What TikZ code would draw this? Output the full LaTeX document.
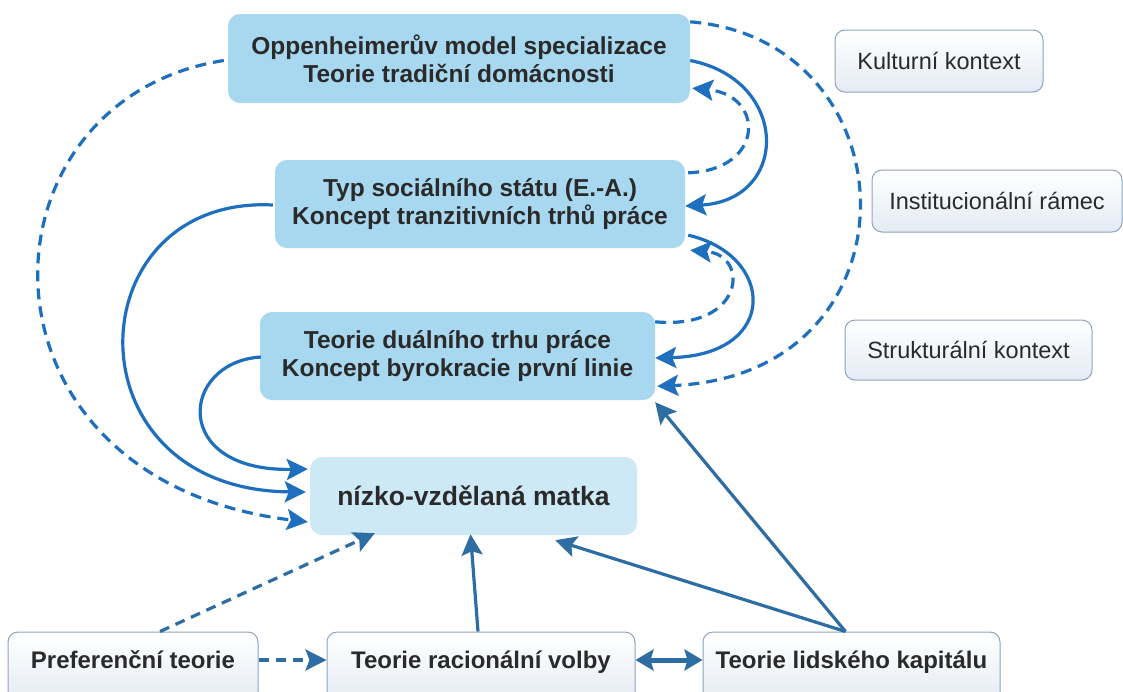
\documentclass[tikz,border=0pt]{standalone}
\usepackage{fontspec}
\setmainfont{Liberation Sans}
\usetikzlibrary{arrows.meta,calc}
\definecolor{boxblue}{HTML}{A8D8EF}
\definecolor{matblue}{HTML}{CDE9F6}
\definecolor{txt}{HTML}{2A2A2A}
\definecolor{curveblue}{HTML}{1E70BF}
\definecolor{lineblue}{HTML}{2E6DA4}
\definecolor{ctxborder}{HTML}{8CA4BC}
\definecolor{ctxbottom}{HTML}{E4EBF3}
\tikzset{
  mainbox/.style={fill=boxblue, rounded corners=12pt, text=txt, align=center,
    font=\bfseries\fontsize{24.5}{28}\selectfont, inner sep=0pt},
  matbox/.style={fill=matblue, rounded corners=12pt, text=txt,
    font=\bfseries\fontsize{26.5}{30}\selectfont, inner sep=0pt},
  ctxbox/.style={draw=ctxborder, line width=1pt, rounded corners=10pt,
    top color=white, bottom color=ctxbottom, text=txt,
    font=\fontsize{23.5}{27}\selectfont, inner sep=0pt},
  thbox/.style={ctxbox, font=\bfseries\fontsize{24}{28}\selectfont,
    text height=17pt, text depth=16pt},
  tipc/.style={-{Stealth[length=21pt,width=21pt,inset=4pt]}},
  curve/.style={draw=curveblue, line width=3.2pt, tipc},
  dcurve/.style={curve, dash pattern=on 11pt off 7pt},
  bline/.style={draw=lineblue, line width=3.2pt, tipc},
  dbline/.style={bline, dash pattern=on 10pt off 7pt},
}
\begin{document}
\begin{tikzpicture}[x=1pt,y=-1pt]
\useasboundingbox (0,0) rectangle (1123,691);
\fill[white] (0,0) rectangle (1123,691);

\node[mainbox, minimum width=462pt, minimum height=89pt] (O) at (459,58.5)
  {Oppenheimerův model specializace\\Teorie tradiční domácnosti};
\node[mainbox, minimum width=410pt, minimum height=88pt] (T) at (480,204)
  {Typ sociálního státu (E.-A.)\\Koncept tranzitivních trhů práce};
\node[mainbox, minimum width=395pt, minimum height=88pt] (D) at (457.5,356)
  {Teorie duálního trhu práce\\Koncept byrokracie první linie};
\node[matbox, minimum width=327pt, minimum height=78pt] (M) at (473.5,496)
  {nízko-vzdělaná matka};

\node[ctxbox, minimum width=208pt, minimum height=62pt] (K) at (939,61) {Kulturní kontext};
\node[ctxbox, minimum width=250pt, minimum height=62pt] (I) at (997,201) {Institucionální rámec};
\node[ctxbox, minimum width=247pt, minimum height=60pt] (S) at (968.5,350) {Strukturální kontext};

\node[thbox, minimum width=250pt, minimum height=72pt] (P) at (133,668) {Preferenční teorie};
\node[thbox, minimum width=308pt, minimum height=72pt] (R) at (481,668) {Teorie racionální volby};
\node[thbox, minimum width=297pt, minimum height=72pt] (H) at (851.5,668) {Teorie lidského kapitálu};

% right-hand loops
\draw[curve] ($(O.east)+(0,2)$) .. controls (790,80) and (790,200) .. ($(T.east)+(0,2)$);
\draw[dcurve] ($(T.north east)+(3,13)$) .. controls (765,170) and (765,95) .. ($(O.south east)+(2,-15)$);
\draw[curve] ($(T.south east)+(3,-13)$) .. controls (775,255) and (780,355) .. ($(D.east)+(0,2)$);
\draw[dcurve] ($(D.north east)+(0,10)$) .. controls (745,330) and (750,255) .. ($(T.south east)+(5,2)$);
\draw[dcurve] ($(O.north east)+(0,8)$) .. controls (915,40) and (925,375) .. ($(D.south east)+(2,-14)$);

% left-hand loops
\draw[dcurve] ($(O.west)+(-4,2)$) .. controls (-30,100) and (-40,480) .. ($(M.west)+(-2,26)$);
\draw[curve] ($(T.west)+(-2,1)$) .. controls (75,195) and (65,490) .. ($(M.west)+(-4,-4)$);
\draw[curve] ($(D.west)+(1,1)$) .. controls (180,362) and (170,472) .. ($(M.west)+(-2,-27)$);

% bottom connectors
\coordinate (Pt) at ($(P.north)+(27,0)$);
\coordinate (Ht) at ($(H.north)+(-6,0)$);
\draw[dbline] (Pt) -- ($(M.south west)+(65,-2)$);
\draw[bline] ($(R.north)+(-3,0)$) -- ($(M.south)+(-3,-1)$);
\draw[bline] (Ht) -- ($(M.south east)+(-82,5)$);
\draw[bline] (Ht) -- ($(D.south east)+(0,2)$);
\draw[dbline] ([yshift=8pt]P.east) -- ([yshift=8pt]R.west);
\draw[draw=lineblue, line width=5pt, {Stealth[length=18pt,width=21pt,inset=3pt]}-{Stealth[length=18pt,width=21pt,inset=3pt]}]
  ([yshift=8pt]R.east) -- ([yshift=8pt]H.west);
\end{tikzpicture}
\end{document}
